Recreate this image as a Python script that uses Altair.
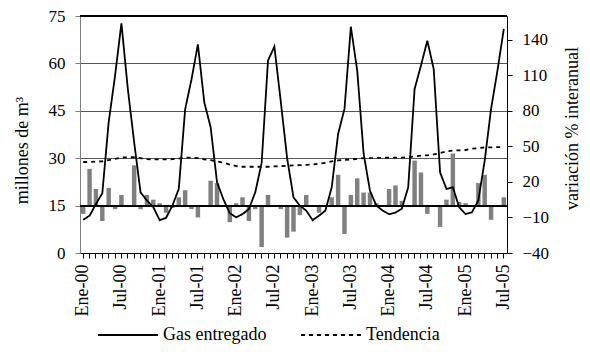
import altair as alt
import pandas as pd

nombres = ["Ene", "Feb", "Mar", "Abr", "May", "Jun", "Jul", "Ago", "Sep", "Oct", "Nov", "Dic"]
meses = [f"{m}-{a:02d}" for a in range(0, 6) for m in nombres][:67]

gas = [10.5, 11.8, 15.5, 18.9, 41.4, 56.1, 72.7, 52.0, 35.0, 19.2, 16.6, 14.5,
       10.4, 11.1, 15.0, 20.3, 45.5, 55.0, 66.0, 47.7, 39.8, 22.4, 17.0, 12.6,
       11.3, 12.3, 13.9, 19.2, 28.5, 60.9, 65.3, 48.0, 30.0, 17.6, 15.0, 13.4,
       10.4, 11.8, 13.4, 20.8, 37.7, 45.6, 71.6, 57.7, 31.5, 19.7, 15.0, 13.4,
       12.3, 12.8, 14.0, 20.8, 51.9, 59.3, 67.2, 58.2, 25.5, 20.3, 20.8, 14.5,
       12.3, 12.9, 16.6, 29.2, 45.6, 57.7, 70.9]

tendencia = [28.8, 28.8, 28.9, 29.0, 29.4, 29.8, 30.2, 30.3, 30.3, 30.0, 29.7, 29.6,
             29.6, 29.6, 29.7, 29.9, 30.2, 30.2, 30.0, 29.6, 29.4, 29.0, 28.6, 28.0,
             27.5, 27.3, 27.3, 27.3, 27.3, 27.3, 27.4, 27.5, 27.6, 27.7, 27.8, 27.9,
             28.0, 28.3, 28.5, 29.0, 29.3, 29.5, 29.6, 29.8, 30.0, 30.0, 30.1, 30.1,
             30.2, 30.2, 30.2, 30.3, 30.6, 30.8, 30.9, 31.2, 31.6, 32.2, 32.4, 32.5,
             32.6, 33.0, 33.2, 33.4, 33.4, 33.5, 33.5]

variacion = [-7, 31, 14, -13, 15, -3, 9, 0.5, 34, -3, 9, 5,
             2, -6, -2, 7, 13, -3, -10, -1, 21, 19, 0, -14,
             2, 7, -13, -3, -35, 9, -1, -3, -27, -22, -8, 9,
             -1, -6, 0, 7, 26, -24, 9, 23, 11, 11, 2, -1,
             14, 17, 4, -1, 38, 28, -7, 0, -18, 5, 44, 3,
             2, 0, 19, 26, -12, 0, 7]

ticks_izq = [0, 15, 30, 45, 60, 75]
ticks_der = [-40, -10, 20, 50, 80, 110, 140]
series = ["Gas entregado", "Tendencia"]

df = pd.DataFrame({"mes": meses, "gas": gas, "tendencia": tendencia, "variacion": variacion})

FONT = "Liberation Serif"
DOM_DER = [-40, 160]
DOM_IZQ = [0, 75]

x_enc = alt.X(
    "mes:N", sort=meses, title=None,
    scale=alt.Scale(paddingInner=0.3, paddingOuter=0.15),
    axis=alt.Axis(
        orient="bottom",
        labelAngle=270, labelAlign="right", labelBaseline="middle",
        labelExpr="(slice(datum.value,0,3)=='Ene' || slice(datum.value,0,3)=='Jul') ? datum.value : ''",
        labelOverlap=False, tickSize=5, tickColor="black",
        domainColor="black", labelPadding=6, grid=False, labelFontSize=18,
    ),
)

bars = alt.Chart(df).mark_bar(color="#808080").encode(
    x=x_enc,
    y=alt.Y("variacion:Q", scale=alt.Scale(domain=DOM_DER, nice=False),
            axis=alt.Axis(orient="right", values=ticks_der, grid=False, tickSize=5,
                          tickColor="black", domainColor="black", labelPadding=10,
                          title="variación % interanual", titleAngle=270,
                          titleX=65, titleY=112, titleAlign="center", titleBaseline="middle")),
)

cero = alt.Chart(df).mark_rule(color="black", strokeWidth=1).encode(
    y=alt.YDatum(0, scale=alt.Scale(domain=DOM_DER, nice=False), axis=None)
)
tope = alt.Chart(df).mark_rule(color="black", strokeWidth=1).encode(
    y=alt.YDatum(75, scale=alt.Scale(domain=DOM_IZQ, nice=False), axis=None)
)

lines = alt.Chart(df).transform_fold(["gas", "tendencia"], as_=["clave", "valor"]).transform_calculate(
    serie="datum.clave == 'gas' ? 'Gas entregado' : 'Tendencia'"
).mark_line(color="black", strokeWidth=1.8).encode(
    x=x_enc,
    y=alt.Y("valor:Q", scale=alt.Scale(domain=DOM_IZQ, nice=False),
            axis=alt.Axis(orient="left", values=ticks_izq, grid=True, gridColor="#555555",
                          tickSize=5, tickColor="#808080", domainColor="#808080", labelPadding=10,
                          title="millones de m³", titleAngle=270, titleX=-58, titleY=134,
                          titleAlign="center", titleBaseline="middle")),
    strokeDash=alt.StrokeDash(
        "serie:N",
        scale=alt.Scale(domain=series, range=[[1, 0], [4, 4]]),
        legend=alt.Legend(title=None, orient="none", legendX=17, legendY=288,
                          direction="horizontal", symbolType="stroke", symbolSize=3600,
                          symbolStrokeWidth=1.8, symbolStrokeColor="black",
                          labelFontSize=18, labelFont=FONT, labelColor="black",
                          columnPadding=30, labelOffset=4),
    ),
)

chart = alt.layer(bars, cero, tope, lines).resolve_scale(y="independent").properties(
    width=427, height=237,
    padding={"left": 72, "top": 8, "right": 75, "bottom": 95},
    autosize=alt.AutoSizeParams(type="none"),
).configure_view(stroke=None).configure_axis(
    labelFont=FONT, labelFontSize=17, labelColor="black",
    titleFont=FONT, titleFontSize=18, titleFontWeight="normal", titleColor="black",
    domainWidth=1, tickWidth=1, gridWidth=1,
)

chart.save("out.html", embed_options={"renderer": "svg", "actions": False})
